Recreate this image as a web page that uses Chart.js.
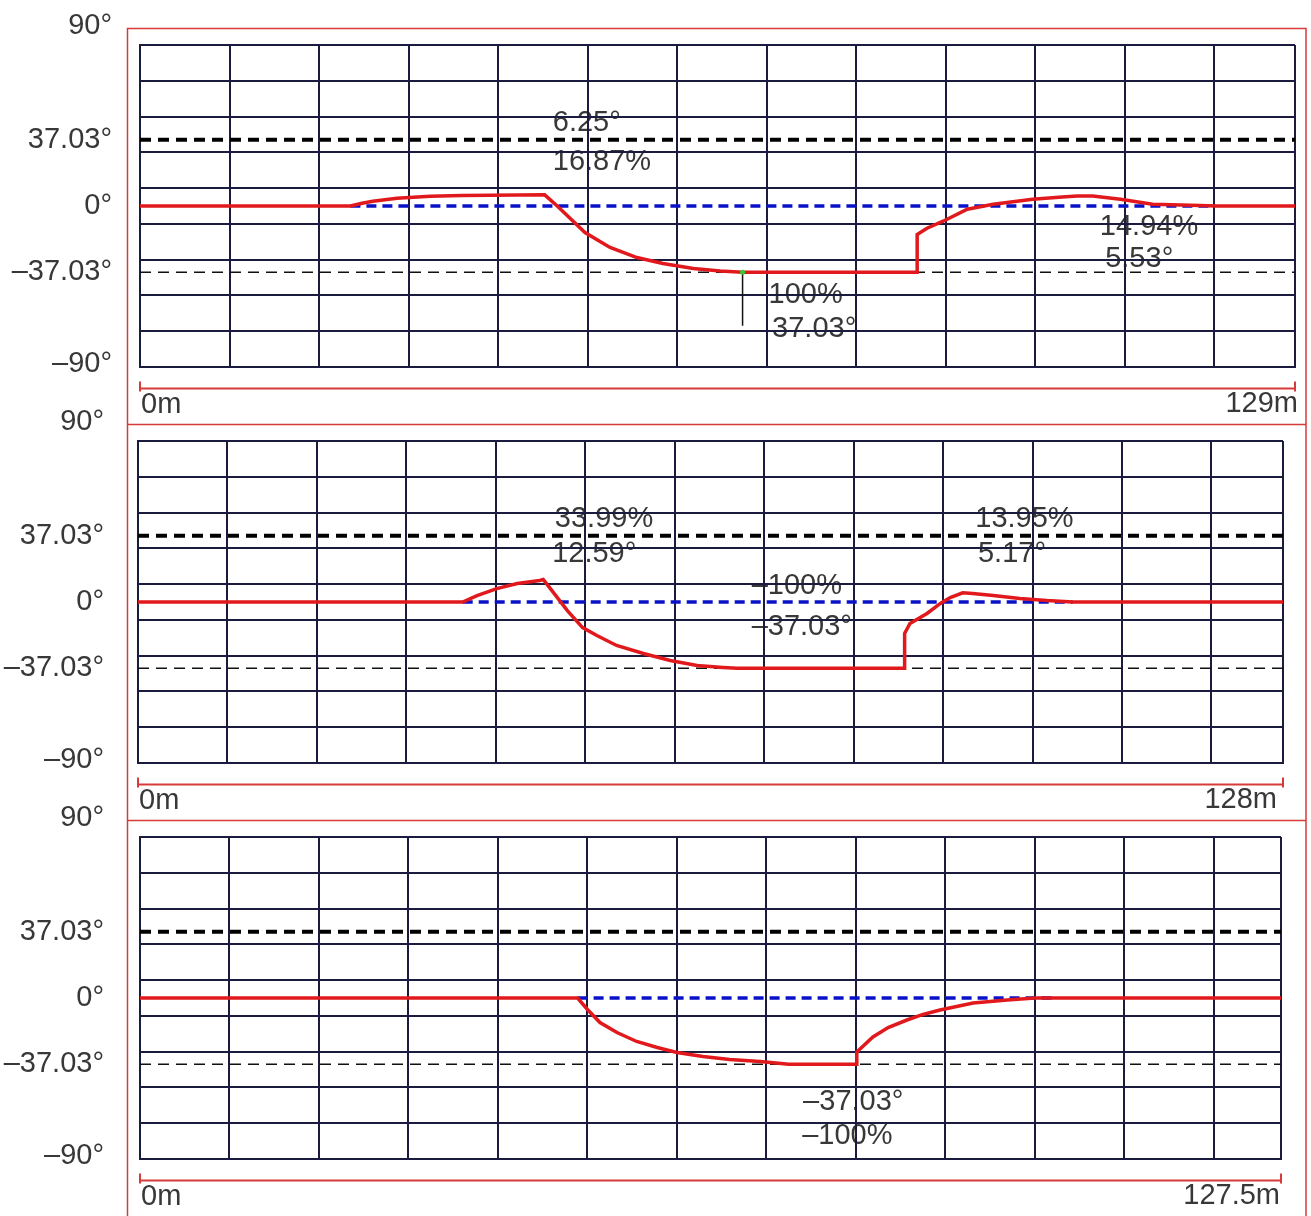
<!DOCTYPE html>
<html>
<head>
<meta charset="utf-8">
<script src="https://cdn.jsdelivr.net/npm/chart.js@4.4.1/dist/chart.umd.min.js"></script>
<style>
  body { margin: 0; background: #fff; }
  #wrap { position: relative; width: 1311px; height: 1216px; overflow: hidden; }
  canvas { position: absolute; left: 0; }
</style>
</head>
<body>
<div id="wrap">
  <canvas id="profile-1" width="1311" height="424" style="top:0px"></canvas>
  <canvas id="profile-2" width="1311" height="424" style="top:396px"></canvas>
  <canvas id="profile-3" width="1311" height="424" style="top:792px"></canvas>
</div>
<script>
// angle axis labels
const degTicks = [90, 37.03, 0, -37.03, -90]
const degLabels = ["90°", "37.03°", "0°", "–37.03°", "–90°"]
const limitAngle = 37.03

// profile 1 – 129 m
const p1Length = 129
const p1Dist = [0, 23.5, 24.8, 26, 28.7, 32.4, 36, 45.2, 46.6, 49.7, 52.5, 55.5, 58.4, 61.8, 64.8, 67.3, 86.8, 86.8, 87.9, 89.7, 92.4, 95.3, 99.7, 103, 104.7, 106.4, 109.5, 113.1, 118.4, 120.2, 129]
const p1Angle = [0, 0, 1.5, 2.7, 4.3, 5.4, 5.9, 6.25, 0, -14.8, -23.2, -28.8, -32.1, -34.9, -36.3, -37.03, -37.03, -15.9, -12.4, -8.5, -1.8, 1.0, 3.8, 5.0, 5.53, 5.53, 3.8, 1.0, 0.3, 0, 0]
const p1Level = [23.5, 120]
const p1Marker = [67.3, -37.03, -67]
const p1Notes = ["6.25°", "16.87%", "14.94%", "5.53°", "–100%", "37.03°"]

// profile 2 – 128 m
const p2Length = 128
const p2Dist = [0, 36.3, 37.9, 40.1, 42.4, 44.9, 45.3, 46.1, 48.0, 49.7, 51.3, 53.5, 56.5, 59.5, 62.5, 65.4, 67, 85.7, 85.7, 86.3, 88.2, 89.7, 90.8, 92.2, 93.3, 95.6, 98.6, 101.6, 104.5, 128]
const p2Angle = [0, 0, 3.6, 7.5, 10.3, 12.0, 12.59, 7.5, -4.8, -14.3, -18.7, -24.3, -28.8, -32.7, -35.5, -36.6, -37.03, -37.03, -17.6, -12.0, -6.4, -0.8, 2.5, 5.17, 4.75, 3.6, 2.0, 0.8, 0, 0]
const p2Level = [36.3, 104.5]
const p2Notes = ["33.99%", "12.59°", "–100%", "–37.03°", "13.95%", "5.17°"]

// profile 3 – 127.5 m
const p3Length = 127.5
const p3Dist = [0, 48.9, 50.0, 51.4, 53.3, 55.5, 57.8, 60.0, 62.9, 65.9, 69.3, 72.5, 80.1, 80.1, 81.9, 83.6, 85.7, 87.5, 89.4, 93.1, 96.9, 100, 127.5]
const p3Angle = [0, 0, -6.4, -13.7, -19.3, -24.3, -27.7, -30.5, -32.7, -34.4, -35.5, -37.03, -37.03, -30.2, -21.8, -16.5, -12.3, -9.2, -6.7, -2.8, -1.1, 0, 0]
const p3Level = [48.9, 102]
const p3Notes = ["–37.03°", "–100%"]

const FONT = '29px "Liberation Sans", Arial, sans-serif'
const TEXT = "#383838"
const FRAME = "#d83a3a"
const GRID = "#1b1b3e"

const profilePlugin = {
  id: "profile",
  beforeDraw(chart, args, opts) {
    const {ctx, chartArea: a, scales: {x, y}} = chart
    ctx.save()
    ctx.strokeStyle = FRAME
    ctx.lineWidth = 1.5
    ctx.beginPath()
    ctx.moveTo(127.5, chart.height)
    ctx.lineTo(127.5, 28.5)
    ctx.lineTo(1306, 28.5)
    ctx.lineTo(1306, chart.height)
    ctx.stroke()
    ctx.font = FONT
    ctx.fillStyle = TEXT
    ctx.textBaseline = "middle"
    ctx.textAlign = "left"
    opts.notes.forEach(n => ctx.fillText(n.text, x.getPixelForValue(n.at[0]), y.getPixelForValue(n.at[1])))
    ctx.restore()
  },
  afterDraw(chart, args, opts) {
    const {ctx, chartArea: a, scales: {x, y}} = chart
    ctx.save()
    ctx.font = FONT
    ctx.fillStyle = TEXT
    ctx.textBaseline = "middle"
    ctx.textAlign = "right"
    degTicks.forEach((v, i) => {
      let py = y.getPixelForValue(v)
      if (v === 90) py = a.top - 19
      if (v === -90) py = a.bottom - 3
      ctx.fillText(degLabels[i], a.left - opts.labelGap, py)
    })
    // distance bar under the grid
    const x0 = x.getPixelForValue(0), x1 = x.getPixelForValue(opts.length)
    const yb = a.bottom + 21.5
    ctx.strokeStyle = FRAME
    ctx.lineWidth = 2
    ctx.beginPath()
    ctx.moveTo(x0, yb); ctx.lineTo(x1, yb)
    ctx.moveTo(x0, yb - 7); ctx.lineTo(x0, yb + 3)
    ctx.moveTo(x1, yb - 7); ctx.lineTo(x1, yb + 3)
    ctx.stroke()
    ctx.textAlign = "left"
    ctx.fillText("0m", a.left + 1, a.bottom + 38)
    ctx.textAlign = "right"
    ctx.fillText(opts.length + "m", a.right + opts.endShift, a.bottom + 37)
    ctx.restore()
  }
}

function pts(xs, ys) {
  return xs.map((v, i) => ({x: v, y: ys[i]}))
}

function axis(min, max, values) {
  return {
    type: "linear", min: min, max: max,
    afterBuildTicks: s => { s.ticks = values.map(v => ({value: v})) },
    ticks: {display: false},
    grid: {color: GRID, lineWidth: 2, drawTicks: false},
    border: {color: GRID, width: 2}
  }
}

function drawProfile(id, p) {
  let xTicks = []
  for (let v = 0; v < p.length; v += 10) xTicks.push(v)
  xTicks.push(p.length)
  let yTicks = []
  for (let v = -90; v <= 90; v += 20) yTicks.push(v)

  let datasets = [
    {data: pts(p.dist, p.angle), borderColor: "#e2191c", borderWidth: 3.5, pointRadius: 0},
    {data: pts(p.level, [0, 0]), borderColor: "#0a12c8", borderWidth: 3.5, borderDash: [10, 6], pointRadius: 0},
    {data: pts([0, p.length], [limitAngle, limitAngle]), borderColor: "#000", borderWidth: 4, borderDash: [11, 7], pointRadius: 0},
    {data: pts([0, p.length], [-limitAngle, -limitAngle]), borderColor: "#111", borderWidth: 1.6, borderDash: [11, 7], pointRadius: 0},
    {data: [{x: 0, y: 0}], showLine: false, pointRadius: 1.5, pointBorderWidth: 0, pointBackgroundColor: "#5cc"}
  ]
  if (p.marker) {
    datasets.unshift({data: [{x: p.marker[0], y: p.marker[1]}], showLine: false, pointRadius: 2.5, pointBorderWidth: 0, pointBackgroundColor: "#3c3"})
    datasets.push({data: pts([p.marker[0], p.marker[0]], [p.marker[1], p.marker[2]]), borderColor: "#111", borderWidth: 1.5, pointRadius: 0})
  }

  new Chart(document.getElementById(id), {
    type: "line",
    data: {datasets: datasets},
    options: {
      responsive: false,
      animation: false,
      events: [],
      layout: {padding: p.pad},
      scales: {x: axis(0, p.length, xTicks), y: axis(-90, 90, yTicks)},
      plugins: {
        legend: {display: false},
        tooltip: {enabled: false},
        profile: {notes: p.notes, length: p.length, labelGap: p.labelGap, endShift: p.endShift}
      }
    },
    plugins: [profilePlugin]
  })
}

drawProfile("profile-1", {
  length: p1Length, dist: p1Dist, angle: p1Angle, level: p1Level, marker: p1Marker,
  pad: {left: 140, right: 16, top: 45, bottom: 57}, labelGap: 28, endShift: 3,
  notes: [
    {text: p1Notes[0], at: [46.1, 46.5]},
    {text: p1Notes[1], at: [46.1, 24.7]},
    {text: p1Notes[2], at: [107.2, -11.7]},
    {text: p1Notes[3], at: [107.8, -29.6]},
    {text: p1Notes[4], at: [68.4, -49.7]},
    {text: p1Notes[5], at: [70.6, -68.7]}
  ]
})

drawProfile("profile-2", {
  length: p2Length, dist: p2Dist, angle: p2Angle, level: p2Level,
  pad: {left: 138, right: 28, top: 45, bottom: 57}, labelGap: 34, endShift: -6,
  notes: [
    {text: p2Notes[0], at: [46.6, 46.5]},
    {text: p2Notes[1], at: [46.3, 26.9]},
    {text: p2Notes[2], at: [68.6, 9.0]},
    {text: p2Notes[3], at: [68.6, -13.9]},
    {text: p2Notes[4], at: [93.6, 46.5]},
    {text: p2Notes[5], at: [93.9, 26.9]}
  ]
})

drawProfile("profile-3", {
  length: p3Length, dist: p3Dist, angle: p3Angle, level: p3Level,
  pad: {left: 140, right: 30, top: 45, bottom: 57}, labelGap: 36, endShift: -1,
  notes: [
    {text: p3Notes[0], at: [74.1, -58.1]},
    {text: p3Notes[1], at: [74.0, -77.1]}
  ]
})
</script>
</body>
</html>
